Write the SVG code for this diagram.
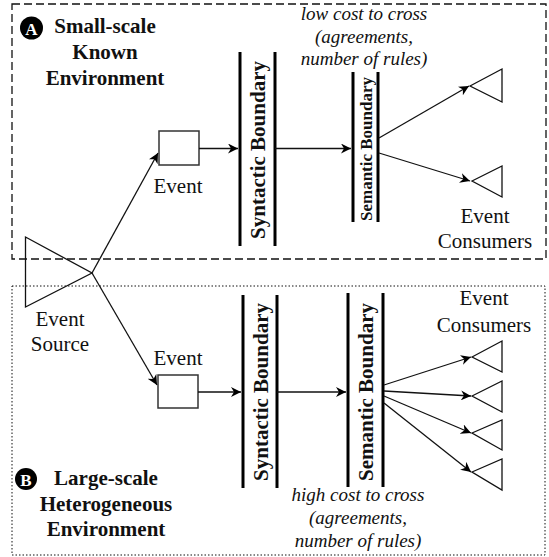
<svg xmlns="http://www.w3.org/2000/svg" width="549" height="557" viewBox="0 0 549 557">
<style>
text{fill:#111}
.b{font-weight:bold;font-size:21px}
.r{font-size:21px}
.i{font-style:italic;font-size:19px}
.c{text-anchor:middle}
.conn{stroke:#111;stroke-width:1.3;fill:none;marker-end:url(#ah)}
.bd{stroke:#000;stroke-width:3}
.tri{fill:none;stroke:#111;stroke-width:1.3}
.box{fill:#fff;stroke:#333;stroke-width:1.5}
</style>
<defs>
<marker id="ah" markerUnits="userSpaceOnUse" markerWidth="11" markerHeight="10" refX="10" refY="5" orient="auto">
<path d="M0,0 L10,5 L0,10 L3,5 z" fill="#000"/>
</marker>
</defs>
<rect width="549" height="557" fill="#fff"/>

<g id="envA">
<rect x="12" y="4" width="534" height="255" fill="none" stroke="#111" stroke-width="1.3" stroke-dasharray="8,4"/>
<circle cx="31.5" cy="28" r="11.5" fill="#000"/>
<text x="31.5" y="34.5" class="b c" font-family="'Liberation Serif', serif" style="font-size:17px;fill:#fff">A</text>
<text x="105" y="33" class="b c" font-family="'Liberation Serif', serif">Small-scale</text>
<text x="105" y="59" class="b c" font-family="'Liberation Serif', serif">Known</text>
<text x="105" y="85" class="b c" font-family="'Liberation Serif', serif">Environment</text>
<text x="364" y="20" class="i c" font-family="'Liberation Serif', serif">low cost to cross</text>
<text x="364" y="43" class="i c" font-family="'Liberation Serif', serif">(agreements,</text>
<text x="364" y="65" class="i c" font-family="'Liberation Serif', serif">number of rules)</text>
</g>

<g id="envB">
<rect x="12" y="286" width="533" height="269" fill="none" stroke="#111" stroke-width="1" stroke-dasharray="1.5,2"/>
<circle cx="26" cy="479" r="11" fill="#000"/>
<text x="26" y="485.5" class="b c" font-family="'Liberation Serif', serif" style="font-size:17px;fill:#fff">B</text>
<text x="106" y="485" class="b c" font-family="'Liberation Serif', serif">Large-scale</text>
<text x="106" y="511" class="b c" font-family="'Liberation Serif', serif">Heterogeneous</text>
<text x="106" y="536" class="b c" font-family="'Liberation Serif', serif">Environment</text>
<text x="358" y="501" class="i c" font-family="'Liberation Serif', serif">high cost to cross</text>
<text x="358" y="524" class="i c" font-family="'Liberation Serif', serif">(agreements,</text>
<text x="358" y="547" class="i c" font-family="'Liberation Serif', serif">number of rules)</text>
</g>

<g id="source">
<polygon points="25.5,237 25.5,307 92,273" class="tri"/>
<text x="60" y="326" class="r c" font-family="'Liberation Serif', serif">Event</text>
<text x="60" y="351" class="r c" font-family="'Liberation Serif', serif">Source</text>
</g>

<g id="eventA">
<rect x="159" y="131" width="40" height="34" class="box"/>
<text x="178" y="193" class="r c" font-family="'Liberation Serif', serif">Event</text>
</g>

<g id="eventB">
<rect x="158" y="375" width="40" height="33" class="box"/>
<text x="178" y="365" class="r c" font-family="'Liberation Serif', serif">Event</text>
</g>

<g id="syntacticA">
<line x1="240" y1="52" x2="240" y2="246" class="bd"/>
<line x1="275" y1="52" x2="275" y2="246" class="bd"/>
<text transform="translate(265,150) rotate(-90)" class="b c" font-family="'Liberation Serif', serif">Syntactic Boundary</text>
</g>

<g id="semanticA">
<line x1="353" y1="72" x2="353" y2="222" class="bd"/>
<line x1="378" y1="72" x2="378" y2="222" class="bd"/>
<text transform="translate(372,149) rotate(-90)" class="b c" font-family="'Liberation Serif', serif" style="font-size:17px">Semantic Boundary</text>
</g>

<g id="syntacticB">
<line x1="243" y1="295" x2="243" y2="488" class="bd"/>
<line x1="277" y1="295" x2="277" y2="488" class="bd"/>
<text transform="translate(268,392) rotate(-90)" class="b c" font-family="'Liberation Serif', serif">Syntactic Boundary</text>
</g>

<g id="semanticB">
<line x1="348" y1="293" x2="348" y2="487" class="bd"/>
<line x1="383" y1="293" x2="383" y2="487" class="bd"/>
<text transform="translate(373,392) rotate(-90)" class="b c" font-family="'Liberation Serif', serif">Semantic Boundary</text>
</g>

<g id="consumersA">
<polygon points="470,86 502,69 502,102" class="tri"/>
<polygon points="472,181 502,166 502,197" class="tri"/>
<text x="485" y="223" class="r c" font-family="'Liberation Serif', serif">Event</text>
<text x="485" y="248" class="r c" font-family="'Liberation Serif', serif">Consumers</text>
</g>

<g id="consumersB">
<polygon points="472,357 502,341 502,372" class="tri"/>
<polygon points="472,396 502,381 502,412" class="tri"/>
<polygon points="472,433 502,420 502,450" class="tri"/>
<polygon points="472,472 502,459 502,490" class="tri"/>
<text x="484" y="305" class="r c" font-family="'Liberation Serif', serif">Event</text>
<text x="484" y="332" class="r c" font-family="'Liberation Serif', serif">Consumers</text>
</g>

<g id="connectors">
<line x1="92" y1="273" x2="158" y2="153" class="conn"/>
<line x1="92" y1="273" x2="157" y2="385" class="conn"/>
<line x1="199" y1="148.5" x2="238" y2="148.5" class="conn"/>
<line x1="275" y1="148.5" x2="351" y2="148.5" class="conn"/>
<line x1="379" y1="138" x2="469" y2="86" class="conn"/>
<line x1="379" y1="153" x2="470" y2="181" class="conn"/>
<line x1="198" y1="392" x2="241" y2="392" class="conn"/>
<line x1="277" y1="392" x2="346" y2="392" class="conn"/>
<line x1="384" y1="385" x2="471" y2="357" class="conn"/>
<line x1="384" y1="391" x2="471" y2="396" class="conn"/>
<line x1="384" y1="396" x2="471" y2="433" class="conn"/>
<line x1="384" y1="403" x2="471" y2="472" class="conn"/>
</g>
</svg>
